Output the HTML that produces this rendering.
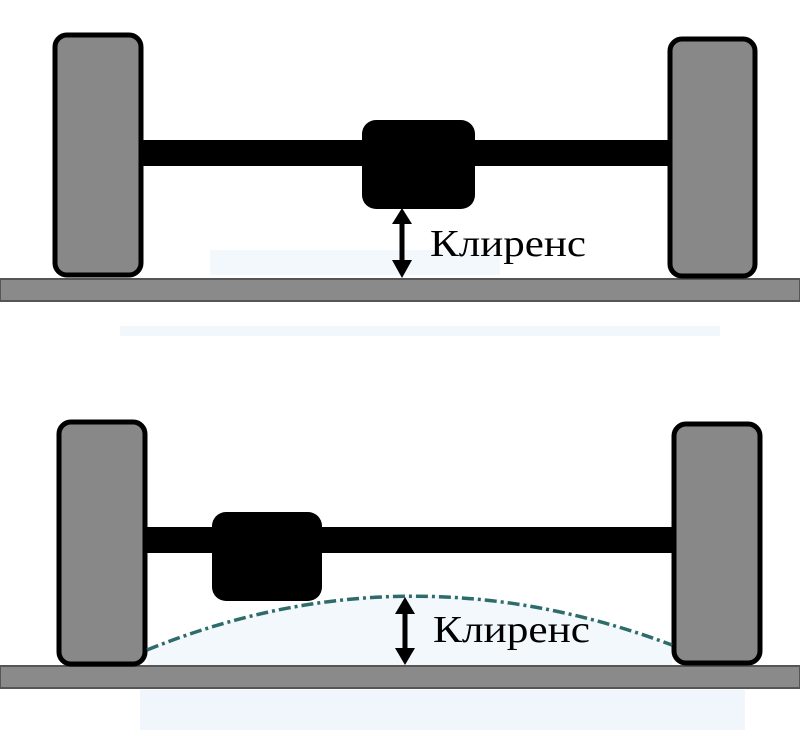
<!DOCTYPE html>
<html><head><meta charset="utf-8"><style>
body{margin:0;background:#fff;}
svg{display:block}
</style></head><body>
<svg width="800" height="730" viewBox="0 0 800 730" xmlns="http://www.w3.org/2000/svg">
<rect x="0" y="0" width="800" height="730" fill="#fff"/>
<rect x="120" y="326" width="600" height="10" fill="#f2f7fc"/>
<rect x="140" y="690" width="605" height="40" fill="#f1f6fc"/>
<rect x="210" y="250" width="290" height="25" fill="#f3f8fc"/>
<path d="M147,650 Q405,545 672,645 L672,665 L147,665 Z" fill="#f3f8fc"/>
<!-- top -->
<rect x="0" y="279" width="800" height="22" fill="#8a8a8a" stroke="#555" stroke-width="2"/>
<rect x="140" y="140" width="530" height="26" fill="#000"/>
<rect x="55" y="35" width="86" height="240" rx="12" fill="#888" stroke="#000" stroke-width="5"/>
<rect x="670" y="39" width="85" height="237" rx="12" fill="#888" stroke="#000" stroke-width="5"/>
<rect x="362" y="120" width="113" height="89" rx="14" fill="#000"/>
<line x1="402" y1="218" x2="402" y2="268" stroke="#000" stroke-width="5"/>
<polygon points="392,224 412,224 402,208" fill="#000"/>
<polygon points="392,260 412,260 402,278" fill="#000"/>
<text x="430" y="256" font-family="Liberation Serif, serif" font-size="38" textLength="156" lengthAdjust="spacingAndGlyphs" fill="#000">Клиренс</text>
<!-- bottom -->
<rect x="0" y="666" width="800" height="22" fill="#8a8a8a" stroke="#555" stroke-width="2"/>
<rect x="145" y="527" width="530" height="26" fill="#000"/>
<rect x="59" y="422" width="86" height="242" rx="12" fill="#888" stroke="#000" stroke-width="5"/>
<rect x="674" y="424" width="86" height="239" rx="12" fill="#888" stroke="#000" stroke-width="5"/>
<rect x="212" y="512" width="110" height="89" rx="14" fill="#000"/>
<path d="M147,650 Q405,545 672,645" fill="none" stroke="#2e6b6b" stroke-width="3.5" stroke-dasharray="12,4,3,4"/>
<line x1="405" y1="608" x2="405" y2="655" stroke="#000" stroke-width="5"/>
<polygon points="395,614 415,614 405,597" fill="#000"/>
<polygon points="395,648 415,648 405,665" fill="#000"/>
<text x="433" y="642" font-family="Liberation Serif, serif" font-size="38" textLength="157" lengthAdjust="spacingAndGlyphs" fill="#000">Клиренс</text>
</svg>
</body></html>
